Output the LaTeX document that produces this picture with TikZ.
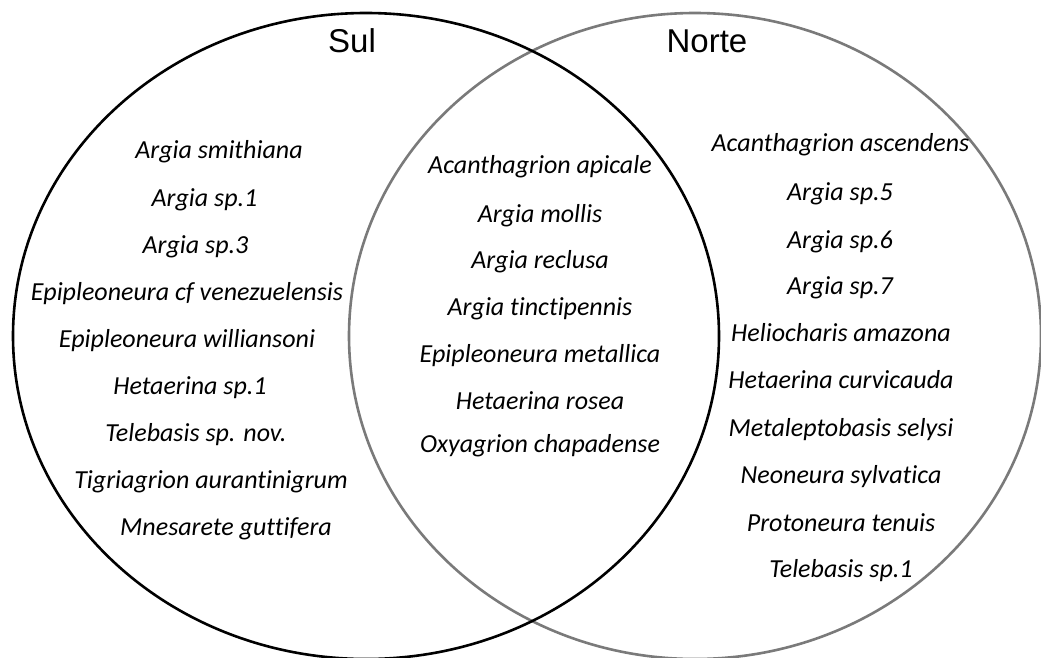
\documentclass[tikz,border=0pt]{standalone}
\usepackage{fontspec}
\setmainfont{Carlito}[Ligatures=NoCommon]
\newfontfamily\arialfont{Liberation Sans}
\begin{document}
\begin{tikzpicture}[x=1pt,y=-1pt,
  sp/.style={anchor=base,inner sep=0pt,font=\fontsize{26}{29}\selectfont\itshape},
  ttl/.style={anchor=base,inner sep=0pt,font=\fontsize{33}{36}\selectfont\arialfont},
  setline/.style={line width=2.6pt}]
\useasboundingbox (0,0) rectangle (1041,658);
\draw[setline,black!52] (695,336) ellipse [x radius=346,y radius=323];
\draw[setline,black] (366,336) ellipse [x radius=353,y radius=323];
\node[ttl] (sul) at (352,53) {Sul};
\node[ttl] (norte) at (707,53) {Norte};
% Sul only
\node[sp] (l1) at (219,158) {Argia smithiana};
\node[sp] (l2) at (204.5,206) {Argia sp.1};
\node[sp] (l3) at (195.5,253) {Argia sp.3};
\node[sp] (l4) at (187,300) {Epipleoneura cf venezuelensis};
\node[sp] (l5) at (187,347) {Epipleoneura williansoni};
\node[sp] (l6) at (190,394) {Hetaerina sp.1};
\node[sp] (l7) at (196,441) {Telebasis sp. nov.};
\node[sp] (l8) at (211,488) {Tigriagrion aurantinigrum};
\node[sp] (l9) at (226,535) {Mnesarete guttifera};
% both
\node[sp] (m1) at (540,173) {Acanthagrion apicale};
\node[sp] (m2) at (540,222) {Argia mollis};
\node[sp] (m3) at (540,268) {Argia reclusa};
\node[sp] (m4) at (540,315) {Argia tinctipennis};
\node[sp] (m5) at (540,362) {Epipleoneura metallica};
\node[sp] (m6) at (540,409) {Hetaerina rosea};
\node[sp] (m7) at (540,452) {Oxyagrion chapadense};
% Norte only
\node[sp] (r1) at (840.5,152) {Acanthagrion ascendens};
\node[sp] (r2) at (840,200) {Argia sp.5};
\node[sp] (r3) at (840,248) {Argia sp.6};
\node[sp] (r4) at (840,294) {Argia sp.7};
\node[sp] (r5) at (841,341) {Heliocharis amazona};
\node[sp] (r6) at (841,388) {Hetaerina curvicauda};
\node[sp] (r7) at (841,436) {Metaleptobasis selysi};
\node[sp] (r8) at (841,483) {Neoneura sylvatica};
\node[sp] (r9) at (841,531) {Protoneura tenuis};
\node[sp] (r10) at (841,577) {Telebasis sp.1};
\end{tikzpicture}
\end{document}
